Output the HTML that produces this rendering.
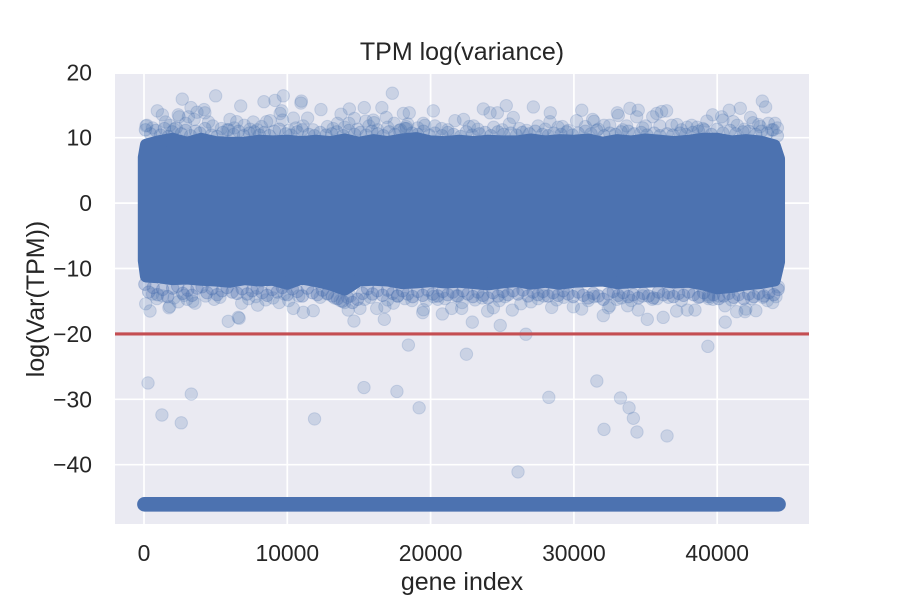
<!DOCTYPE html>
<html lang="en">
<head>
<meta charset="utf-8">
<title>TPM log(variance)</title>
<style>
html,body{margin:0;padding:0;background:#fff;width:900px;height:600px;overflow:hidden}
svg{display:block}
text{font-family:"Liberation Sans",Arial,sans-serif;fill:#262626}
</style>
</head>
<body>
<svg id="chart" xmlns="http://www.w3.org/2000/svg" width="900" height="600" viewBox="0 0 900 600">
  <defs><clipPath id="plot-clip"><rect x="115" y="74" width="694" height="450"/></clipPath></defs>
  <rect x="0" y="0" width="900" height="600" fill="#ffffff"/>
  <rect x="115" y="74" width="694" height="450" fill="#eaeaf2"/>
  <g id="grid"></g>
  <g id="marks" clip-path="url(#plot-clip)"></g>
  <g id="xticks"></g>
  <g id="yticks"></g>
  <text x="462" y="60" font-size="25" text-anchor="middle">TPM log(variance)</text>
  <text x="462" y="590" font-size="25" text-anchor="middle">gene index</text>
  <text transform="translate(44,299) rotate(-90)" font-size="25" text-anchor="middle">log(Var(TPM))</text>
</svg>
<script>
const xTickValues = [0, 10000, 20000, 30000, 40000];
const yTickValues = [20, 10, 0, -10, -20, -30, -40];
const xTickLabels = ["0", "10000", "20000", "30000", "40000"];
const yTickLabels = ["20", "10", "0", "\u221210", "\u221220", "\u221230", "\u221240"];

const thresholdValue = -20;
const zeroVarianceLog = -46.05;
const zeroVarianceStart = 30;
const zeroVarianceEnd = 44280;

const deepGene = [280,1250,2600,3300,11900,15350,17650,19200,18450,22500,26650,26100,28250,31600,32100,33250,33850,34150,34400,36500,39350];
const deepLog = [-27.5,-32.4,-33.6,-29.2,-33,-28.2,-28.8,-31.3,-21.7,-23.1,-20.05,-41.1,-29.7,-27.2,-34.6,-29.8,-31.3,-32.9,-35,-35.6,-21.9];

const upperGene = [5000,2670,9720,9140,8370,6750,930,3280,4190,10980,10950,12350,17330,15370,16600,14330,13750,9610,9500,2390,2450,4250,1280,3700,140,200,6470,6000,7630,8550,9670,10420,11420,16000,16050,17460,15480,14680,14300,16900,20190,18510,18100,23680,25280,27170,24150,24660,28350,25770,30550,31310,31400,33030,33100,33910,34490,34380,36470,36120,35780,35500,36820,43150,43380,41610,40840,39680,40310,40400,39280,42330,42500,38220,22300,21700,20770,19490,19600,18200,18300,18400,23000,44030,43570,41120,42900,33680,30190,28330,29200,32100,35000,37200,37900,600,1500,1800,2100,2900,3100,3500,4500,4800,5400,5800,6300,7000,7400,7900,8200,8800,10100,10600,11100,11800,12800,13200,13500,14000,14900,15700,16300,17000,17800,19100,20300,21200,22700,23300,24400,25000,25500,26200,26700,27500,28000,28900,29600,30800,31700,32500,33400,34800,36000,37500,38600,39000,41400,41900,43000,43800,44200];
const upperLog = [16.4,15.9,16.4,15.7,15.5,14.85,14.1,14.6,14.3,15.6,15.3,14.3,16.8,14.6,14.6,14.4,13.6,14.1,13.7,13.5,13.2,13.8,13.5,13.9,11.8,11.9,12.45,12.8,12.4,12.45,12.7,13,13,12.7,12.3,12.2,12.55,12.95,12.2,13.1,14.1,13.8,13.7,14.4,14.9,14.7,13.8,13.8,13.8,13.1,14.2,12.8,12.5,13.8,13.4,14.5,14.2,13.2,14.1,14,13.7,13.2,11.9,15.6,14.7,14.5,14.2,13.5,13.2,12.7,12.55,13.1,12.3,11.9,12.8,12.6,11.4,12.2,11.9,11.4,11.7,12.1,11.8,12.2,12.2,12.45,12,11.8,12.6,12.45,11.7,11.9,11.8,12,11.6,11.5,12.4,11.9,11.3,12.2,13.2,12.8,12.4,11.8,11.4,11.2,11.5,11.9,11.3,11.2,11.7,12.6,11.1,11.5,11.8,11.2,11.7,11.4,12.2,11.6,11.3,11.8,11.2,11.6,11.1,11.5,11.8,11.2,11.7,11.3,11.6,11.2,12.1,11.4,11.1,11.8,11.3,11.6,11.1,11.7,11.3,11.9,11.2,11.5,11.8,11.2,11.6,11.4,11.9,11.3,11.7,11.2,11.5,11.8,11.4];

const lowerGene = [5880,6580,6640,14650,16770,420,120,1740,1800,2390,2100,3560,3400,11120,11810,10420,7930,9430,6820,14250,15070,16240,16810,17400,22910,24860,19450,19500,20820,21470,22170,23980,24380,25700,26300,27000,28450,29960,30540,32050,32400,32500,33750,34490,35120,36230,37170,37910,38450,40560,40540,41360,41940,42000,42700,43870,44270,39380,39400,35470,22200,19700,21000,900,600,1300,2800,3000,4300,4900,5300,7300,7800,8500,9000,9800,10100,10800,12300,12800,13300,13700,14000,14400,15400,15800,17000,17700,18200,18700,20200,20500,21800,23100,23600,24800,25200,27500,27900,28800,29300,31000,31400,33000,33300,34000,34800,35800,36600,37500,38800,39700,40100,41000,42400,43200,43500,44100];
const lowerLog = [-18.07,-17.47,-17.6,-18.03,-17.77,-16.5,-15.4,-16,-15.8,-15.1,-14.5,-15.3,-15,-16.7,-16.45,-16.1,-15.6,-15.2,-15.3,-16.35,-16.1,-16.1,-15.85,-15.3,-18.2,-18.7,-16.75,-16.3,-16.95,-16.1,-16.1,-16.5,-16,-16.35,-15.4,-15.1,-15.95,-15.85,-16.2,-17.2,-16,-15.7,-15.7,-16.35,-17.77,-17.47,-16.5,-16.35,-16.35,-18.2,-15.7,-16.6,-16.6,-16.2,-16.45,-15.2,-12.8,-14.05,-14.6,-14.7,-15.2,-14.9,-14.6,-14.6,-13.9,-14.2,-14.1,-14.7,-14.2,-14.7,-14.4,-14.6,-14.3,-14.8,-14.5,-13.9,-14.9,-14.2,-14.4,-13.9,-14.5,-14.9,-15.2,-14.2,-14.7,-14.4,-14.8,-14.2,-14.6,-14.9,-14.3,-14.7,-14.2,-14.8,-14.5,-14.9,-14.3,-14.6,-14.2,-14.8,-14.4,-14.9,-14.3,-14.7,-14.5,-14.9,-14.2,-14.6,-14.4,-14.9,-14.3,-14.7,-14.2,-14.8,-14.6,-14.4,-14.9,-14.3];

const shoulderHighGene = [100,450,820,1150,1420,1700,1980,2250,2600,2900,3250,3600,3900,4250,4700,5100,5500,5900,6250,6600,6950,7350,7700,8050,8400,8750,9100,9450,9900,10250,10700,11050,11500,11900,12300,12700,13100,13450,13900,14300,14700,15100,15500,15900,16300,16700,17100,17500,17900,18300,18700,19100,19500,19900,20300,20800,21200,21600,22100,22500,22900,23400,23800,24200,24700,25100,25600,26000,26400,26900,27300,27800,28200,28600,29100,29500,29900,30300,30800,31200,31600,32100,32500,32900,33300,33800,34200,34700,35100,35600,36000,36500,36900,37400,37800,38300,38700,39100,39600,40000,40400,40900,41300,41800,42200,42700,43100,43500,43900,44200];
const shoulderHighLog = [11.2,10.6,11.1,10.4,11.4,10.2,10.9,11.5,10.6,11.1,10.3,11,10.7,11.4,10.4,10.2,10.8,11.2,10.5,11,10.3,10.7,10.9,10.4,10.8,10.3,11,11.3,10.6,10.4,10.9,11.2,10.5,10.3,10.8,10.4,10.6,10.9,10.3,11.1,10.5,10.8,10.4,11,10.6,10.3,10.9,10.5,11.2,11.4,10.7,10.5,11,10.4,10.7,10.3,10.8,10.5,10.2,10.9,10.4,10.6,10.8,10.3,10.9,10.5,10.7,10.4,10.8,10.6,11,10.5,10.3,10.7,10.5,10.9,10.4,10.7,11,10.6,11.1,10.3,10.7,10.5,10.9,11,10.6,10.8,10.4,10.7,10.3,10.6,10.4,10.7,10.5,10.8,11,11.2,10.5,11.3,10.7,11.1,10.6,10.9,11,10.5,11,10.7,11.2,10.3];

const shoulderLowGene = [60,330,640,950,1300,1650,2000,2350,2700,3050,3350,3700,4050,4400,4750,5100,5450,5800,6150,6500,6850,7200,7550,7900,8250,8600,8950,9300,9650,10000,10350,10700,11050,11400,11750,12100,12450,12800,13150,13500,13850,14200,14550,14900,15250,15600,15950,16300,16650,17000,17350,17700,18050,18400,18750,19100,19450,19800,20150,20500,20850,21200,21550,21900,22250,22600,22950,23300,23650,24000,24350,24700,25050,25400,25750,26100,26450,26800,27150,27500,27850,28200,28550,28900,29250,29600,29950,30300,30650,31000,31350,31700,32050,32400,32750,33100,33450,33800,34150,34500,34850,35200,35550,35900,36250,36600,36950,37300,37650,38000,38350,38700,39050,39400,39750,40100,40450,40800,41150,41500,41850,42200,42550,42900,43250,43600,43950,44250];
const shoulderLowLog = [-12.4,-13.6,-12.9,-14,-13.2,-14.3,-13,-12.7,-13.8,-13.3,-14.1,-13,-12.8,-13.7,-13.1,-14,-13.4,-12.9,-13.6,-13.8,-13.1,-13.9,-13.4,-13,-13.7,-14.1,-13.2,-13.6,-12.9,-14,-13.1,-13.5,-14.2,-13,-13.7,-14,-13.3,-13.8,-14.2,-14.6,-15,-14.4,-15.2,-14.7,-13.8,-13.1,-13.9,-13.4,-14.1,-13.3,-13.8,-14.2,-13.4,-13.9,-14.3,-13.5,-14.1,-13.3,-13.9,-14.2,-13.5,-14,-13.6,-14.2,-13.4,-13.9,-14.3,-13.6,-14.1,-14.5,-13.7,-14.2,-13.5,-14,-13.4,-13.9,-13.3,-14.2,-13.6,-14,-13.5,-14.2,-13.7,-14.1,-13.4,-13.9,-14.3,-13.6,-14.1,-14.5,-13.8,-14.2,-14.7,-13.9,-13.5,-14.1,-13.7,-14.3,-14,-14.5,-13.8,-14.2,-14.5,-13.6,-14,-13.7,-14.3,-13.8,-14.1,-13.6,-14,-14.4,-13.7,-14.3,-14,-14.6,-14.2,-13.8,-14.4,-14,-14.6,-13.9,-14.3,-13.8,-14.2,-13.7,-14,-13.2];

const coreGene = [0,150,1000,2000,3000,4000,5000,6000,7000,8000,9000,10000,11000,12000,13000,14000,15000,16000,17000,18000,19000,20000,21000,22000,23000,24000,25000,26000,27000,28000,29000,30000,31000,32000,33000,34000,35000,36000,37000,38000,39000,40000,41000,42000,43000,44000,44300];
const coreHigh = [7.0,8.9,9.4,9.8,9.2,9.8,9.3,9.2,9.2,9.5,9.4,9.5,9.3,9.5,9.3,9.7,9.2,9.6,9.3,9.7,9.9,9.4,9.3,9.5,9.3,9.5,9.4,9.4,9.7,9.4,9.6,9.5,9.7,9.2,9.6,9.4,9.7,9.5,9.3,9.5,9.8,9.8,9.4,9.6,9.4,8.8,6.8];
const coreLow = [-8.8,-11.2,-11.3,-11.6,-11.5,-11.7,-11.8,-12,-11.6,-11.8,-11.7,-12.3,-11.5,-11.9,-12.4,-13.2,-11.8,-11.7,-11.8,-12.2,-12.1,-11.9,-12.1,-12,-12.2,-12.4,-12.1,-11.9,-12.3,-12,-12.3,-12,-11.9,-11.8,-12.2,-12.1,-12,-11.9,-12.1,-12,-12.4,-13,-12.8,-12.4,-12.2,-11.8,-9];

const SVG_NS = "http://www.w3.org/2000/svg";
const BLUE = "#4c72b0";
const xAt = (value) => 144 + value * 0.01433;
const yAt = (value) => 203.1 - value * 6.54;

const gridGroup = document.getElementById("grid");
const marksGroup = document.getElementById("marks");
const xTickGroup = document.getElementById("xticks");
const yTickGroup = document.getElementById("yticks");

xTickValues.forEach((tick, i) => {
  const line = document.createElementNS(SVG_NS, "line");
  
  
  line.setAttribute("x1", xAt(tick));
  line.setAttribute("x2", xAt(tick));
  line.setAttribute("y1", 74);
  line.setAttribute("y2", 524);
  line.setAttribute("stroke", "#ffffff");
  line.setAttribute("stroke-width", 1.7);
  gridGroup.appendChild(line);

  const label = document.createElementNS(SVG_NS, "text");
  
  
  label.setAttribute("x", xAt(tick));
  label.setAttribute("y", 561);
  label.setAttribute("font-size", 22.9);
  label.setAttribute("text-anchor", "middle");
  label.textContent = xTickLabels[i];
  xTickGroup.appendChild(label);
});

yTickValues.forEach((tick, i) => {
  const py = yAt(tick);
  if (py >= 74 && py <= 524) {
    const line = document.createElementNS(SVG_NS, "line");
    
    
    line.setAttribute("x1", 115);
    line.setAttribute("x2", 809);
    line.setAttribute("y1", py);
    line.setAttribute("y2", py);
    line.setAttribute("stroke", "#ffffff");
    line.setAttribute("stroke-width", 1.7);
    gridGroup.appendChild(line);
  }

  const label = document.createElementNS(SVG_NS, "text");
  
  
  label.setAttribute("x", 92);
  label.setAttribute("y", py + 8);
  label.setAttribute("font-size", 22.9);
  label.setAttribute("text-anchor", "end");
  label.textContent = yTickLabels[i];
  yTickGroup.appendChild(label);
});

function drawPoints(genes, logs, opacity) {
  genes.forEach((gene, i) => {
    const dot = document.createElementNS(SVG_NS, "circle");
    
    
    dot.setAttribute("cx", xAt(gene));
    dot.setAttribute("cy", yAt(logs[i]));
    dot.setAttribute("r", 6.2);
    dot.setAttribute("fill", BLUE);
    dot.setAttribute("fill-opacity", opacity);
    dot.setAttribute("stroke", BLUE);
    dot.setAttribute("stroke-opacity", opacity);
    dot.setAttribute("stroke-width", 1);
    marksGroup.appendChild(dot);
  });
}

drawPoints(deepGene, deepLog, 0.2);
drawPoints(upperGene, upperLog, 0.2);
drawPoints(lowerGene, lowerLog, 0.2);
drawPoints(shoulderHighGene, shoulderHighLog, 0.25);
drawPoints(shoulderLowGene, shoulderLowLog, 0.3);

const upperEdge = coreGene.map((gene, i) => xAt(gene) + "," + yAt(coreHigh[i]));
const lowerEdge = coreGene.map((gene, i) => xAt(gene) + "," + yAt(coreLow[i])).reverse();
const core = document.createElementNS(SVG_NS, "polygon");


core.setAttribute("points", upperEdge.concat(lowerEdge).join(" "));
core.setAttribute("fill", BLUE);
core.setAttribute("stroke", BLUE);
core.setAttribute("stroke-width", 12.4);
core.setAttribute("stroke-linejoin", "round");
marksGroup.appendChild(core);

const zeroStrip = document.createElementNS(SVG_NS, "line");


zeroStrip.setAttribute("x1", xAt(zeroVarianceStart));
zeroStrip.setAttribute("x2", xAt(zeroVarianceEnd));
zeroStrip.setAttribute("y1", yAt(zeroVarianceLog));
zeroStrip.setAttribute("y2", yAt(zeroVarianceLog));
zeroStrip.setAttribute("stroke", BLUE);
zeroStrip.setAttribute("stroke-width", 14.6);
zeroStrip.setAttribute("stroke-linecap", "round");
marksGroup.appendChild(zeroStrip);

const thresholdLine = document.createElementNS(SVG_NS, "line");


thresholdLine.setAttribute("x1", 115);
thresholdLine.setAttribute("x2", 809);
thresholdLine.setAttribute("y1", yAt(thresholdValue));
thresholdLine.setAttribute("y2", yAt(thresholdValue));
thresholdLine.setAttribute("stroke", "#c44e52");
thresholdLine.setAttribute("stroke-width", 3.1);
marksGroup.appendChild(thresholdLine);
</script>
</body>
</html>
